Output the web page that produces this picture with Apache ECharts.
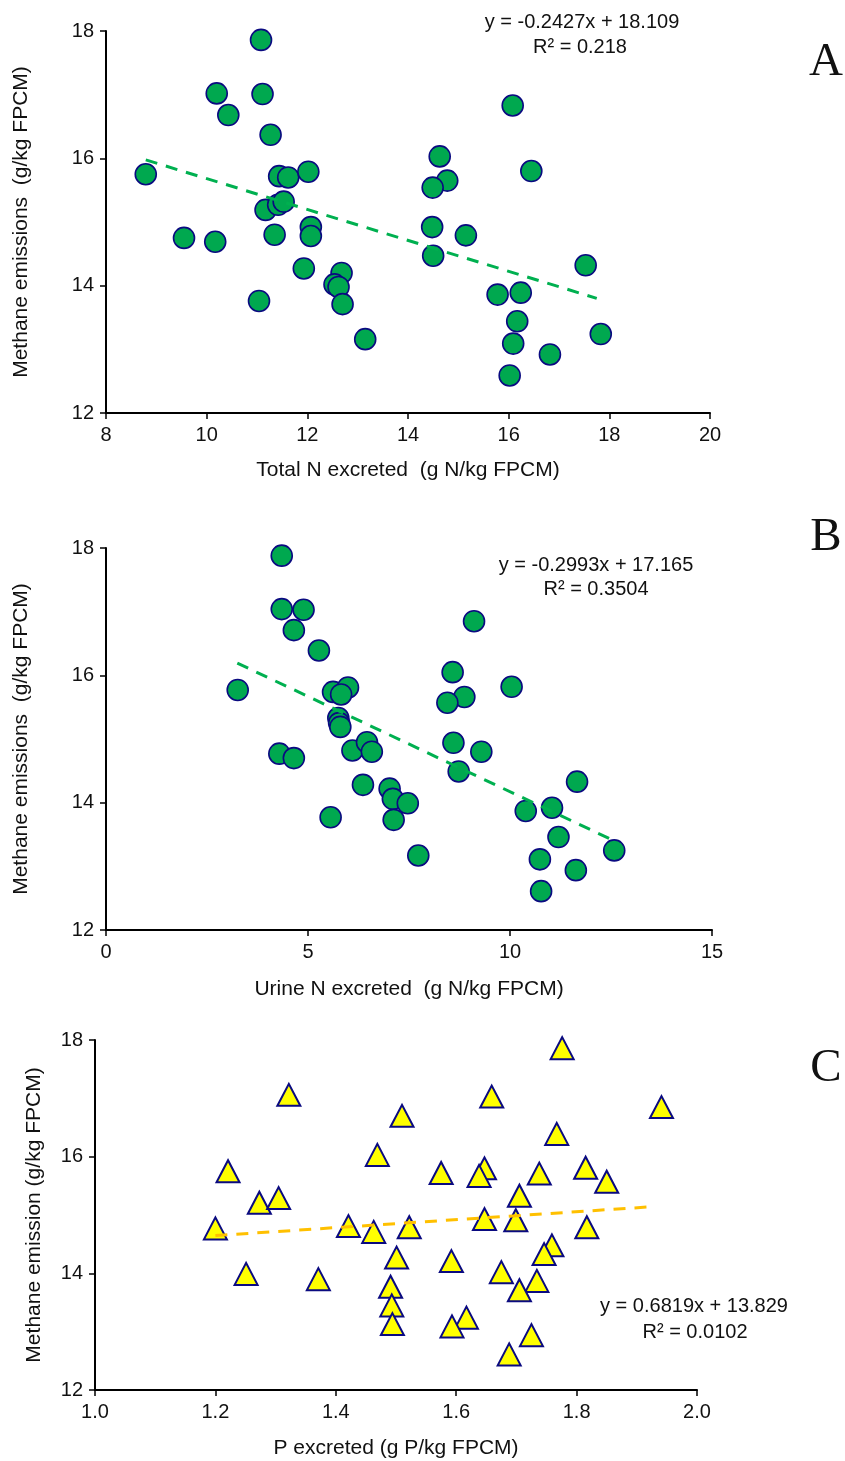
<!DOCTYPE html>
<html>
<head>
<meta charset="utf-8">
<script src="https://cdn.jsdelivr.net/npm/echarts@6/dist/echarts.min.js"></script>
<style>
  html, body { margin: 0; padding: 0; background: #fff; }
  #chart { width: 845px; height: 1461px; }
</style>
</head>
<body>
<div id="chart"></div>
<script>
// Panel A: total N excreted vs methane
const totalN = [11.08, 10.20, 11.11, 10.43, 11.27, 8.79, 11.44, 11.62, 12.02, 11.17,
  11.42, 11.53, 9.55, 10.17, 11.35, 12.07, 12.07, 11.93, 12.68, 12.54,
  12.62, 12.70, 11.04, 13.15, 16.08, 14.63, 14.78, 14.49, 16.45, 14.48,
  15.15, 14.50, 17.53, 15.78, 16.24, 16.17, 16.09, 16.82, 17.83, 16.02]
const methaneA = [17.86, 17.02, 17.01, 16.68, 16.37, 15.75, 15.72, 15.70, 15.79, 15.19,
  15.27, 15.32, 14.75, 14.69, 14.80, 14.92, 14.78, 14.27, 14.20, 14.02,
  13.98, 13.71, 13.76, 13.16, 16.83, 16.03, 15.65, 15.54, 15.80, 14.92,
  14.79, 14.47, 14.32, 13.86, 13.89, 13.44, 13.09, 12.92, 13.24, 12.59]

// Panel B: urine N excreted vs methane
const urineN = [4.35, 4.35, 4.89, 4.65, 5.27, 3.26, 5.62, 5.99, 5.82, 5.75,
  5.77, 5.80, 4.29, 4.65, 6.10, 6.46, 6.58, 6.36, 7.02, 7.10,
  7.47, 7.12, 5.56, 7.73, 9.11, 8.58, 8.87, 8.45, 10.04, 8.60,
  9.29, 8.73, 11.66, 10.39, 11.04, 11.20, 10.74, 11.63, 12.58, 10.77]
const methaneB = [17.88, 17.04, 17.03, 16.71, 16.39, 15.77, 15.74, 15.81, 15.70, 15.33,
  15.25, 15.19, 14.77, 14.70, 14.82, 14.95, 14.80, 14.28, 14.22, 14.06,
  13.99, 13.73, 13.77, 13.17, 16.85, 16.05, 15.66, 15.57, 15.82, 14.94,
  14.80, 14.49, 14.33, 13.87, 13.92, 13.46, 13.11, 12.94, 13.25, 12.61]

// Panel C: P excreted vs methane
const pExcreted = [1.322, 1.510, 1.469, 1.221, 1.273, 1.305, 1.200, 1.421, 1.463, 1.522,
  1.501, 1.251, 1.371, 1.491, 1.493, 1.494, 1.776, 1.659, 1.941, 1.767,
  1.575, 1.647, 1.638, 1.738, 1.815, 1.850, 1.705, 1.647, 1.699, 1.817,
  1.592, 1.759, 1.746, 1.675, 1.734, 1.705, 1.617, 1.593, 1.725, 1.688]
const methaneC = [17.06, 16.70, 16.03, 15.75, 15.21, 15.29, 14.77, 14.81, 14.71, 14.79,
  14.27, 13.99, 13.90, 13.77, 13.45, 13.13, 17.86, 17.03, 16.85, 16.39,
  15.72, 15.80, 15.67, 15.71, 15.81, 15.57, 15.33, 14.93, 14.91, 14.79,
  14.21, 14.48, 14.33, 14.02, 13.87, 13.71, 13.24, 13.09, 12.94, 12.61]

// trendline coefficients [slope, intercept] and the x span each line covers
const fitA = [-0.2427, 18.109]
const fitB = [-0.2993, 17.165]
const fitC = [0.6819, 13.829]
const spanA = [8.79, 17.75]
const spanB = [3.25, 12.5]
const spanC = [1.2, 1.92]

const yTicks = { min: 12, max: 18, interval: 2 }

const FONT = 'Liberation Sans, Arial, sans-serif'
const SERIF = 'Liberation Serif, Times New Roman, serif'
const NAVY = '#0a0a80'

function pairs(xs, ys) {
  return xs.map((x, i) => [x, ys[i]])
}

function trend(span, fit) {
  return span.map((x) => [x, fit[0] * x + fit[1]])
}

function axisBase() {
  return {
    axisLine: { onZero: false, lineStyle: { color: '#000', width: 2 } },
    axisTick: { inside: false, length: 6, lineStyle: { color: '#000', width: 1.5 } },
    splitLine: { show: false },
    axisLabel: { color: '#111', fontFamily: FONT, fontSize: 20, margin: 12 },
    nameTextStyle: { color: '#111', fontFamily: FONT, fontSize: 21 },
    nameLocation: 'middle'
  }
}

function makeX(idx, min, max, interval, name, gap, fmt) {
  const a = axisBase()
  return Object.assign(a, {
    type: 'value', gridIndex: idx, min, max, interval, name, nameGap: gap,
    axisLabel: Object.assign(a.axisLabel, fmt ? { formatter: fmt } : {})
  })
}

function makeY(idx, name, gap) {
  return Object.assign(axisBase(), {
    type: 'value', gridIndex: idx, min: yTicks.min, max: yTicks.max,
    interval: yTicks.interval, name, nameGap: gap
  })
}

function scatter(idx, data, symbol) {
  const circle = symbol === 'circle'
  return {
    type: 'scatter', xAxisIndex: idx, yAxisIndex: idx, data,
    symbol, symbolSize: circle ? 21 : [23, 22],
    itemStyle: {
      color: circle ? '#00a84f' : '#ffff00',
      borderColor: NAVY, borderWidth: circle ? 1.6 : 2, opacity: 1
    },
    z: 2
  }
}

function trendLine(idx, data, color) {
  return {
    type: 'line', xAxisIndex: idx, yAxisIndex: idx, data,
    symbol: 'none', silent: true,
    lineStyle: { color, width: 3, type: [12, 9] },
    z: 3
  }
}

// centred text at (x, y)
function note(text, x, y, size, family) {
  return {
    type: 'text', x, y, z: 10,
    style: { text, fill: '#111', font: size + 'px ' + family, align: 'center', verticalAlign: 'middle' }
  }
}

const chart = echarts.init(document.getElementById('chart'))

const option = {
  backgroundColor: '#fff',
  animation: false,
  grid: [
    { left: 106, top: 31, width: 604, height: 382 },
    { left: 106, top: 548, width: 606, height: 382 },
    { left: 95, top: 1040, width: 602, height: 350 }
  ],
  xAxis: [
    makeX(0, 8, 20, 2, 'Total N excreted  (g N/kg FPCM)', 47),
    makeX(1, 0, 15, 5, 'Urine N excreted  (g N/kg FPCM)', 49),
    makeX(2, 1.0, 2.0, 0.2, 'P excreted (g P/kg FPCM)', 48, (v) => v.toFixed(1))
  ],
  yAxis: [
    makeY(0, 'Methane emissions  (g/kg FPCM)', 74),
    makeY(1, 'Methane emissions  (g/kg FPCM)', 74),
    makeY(2, 'Methane emission (g/kg FPCM)', 50)
  ],
  series: [
    scatter(0, pairs(totalN, methaneA), 'circle'),
    trendLine(0, trend(spanA, fitA), '#00b050'),
    scatter(1, pairs(urineN, methaneB), 'circle'),
    trendLine(1, trend(spanB, fitB), '#00b050'),
    scatter(2, pairs(pExcreted, methaneC), 'triangle'),
    trendLine(2, trend(spanC, fitC), '#ffc000')
  ],
  graphic: [
    note('y = -0.2427x + 18.109', 582, 22, 20, FONT),
    note('R² = 0.218', 580, 47, 20, FONT),
    note('y = -0.2993x + 17.165', 596, 565, 20, FONT),
    note('R² = 0.3504', 596, 589, 20, FONT),
    note('y = 0.6819x + 13.829', 694, 1306, 20, FONT),
    note('R² = 0.0102', 695, 1332, 20, FONT),
    note('A', 826, 63, 47, SERIF),
    note('B', 826, 538, 47, SERIF),
    note('C', 826, 1069, 47, SERIF)
  ]
}

chart.setOption(option)
</script>
</body>
</html>
